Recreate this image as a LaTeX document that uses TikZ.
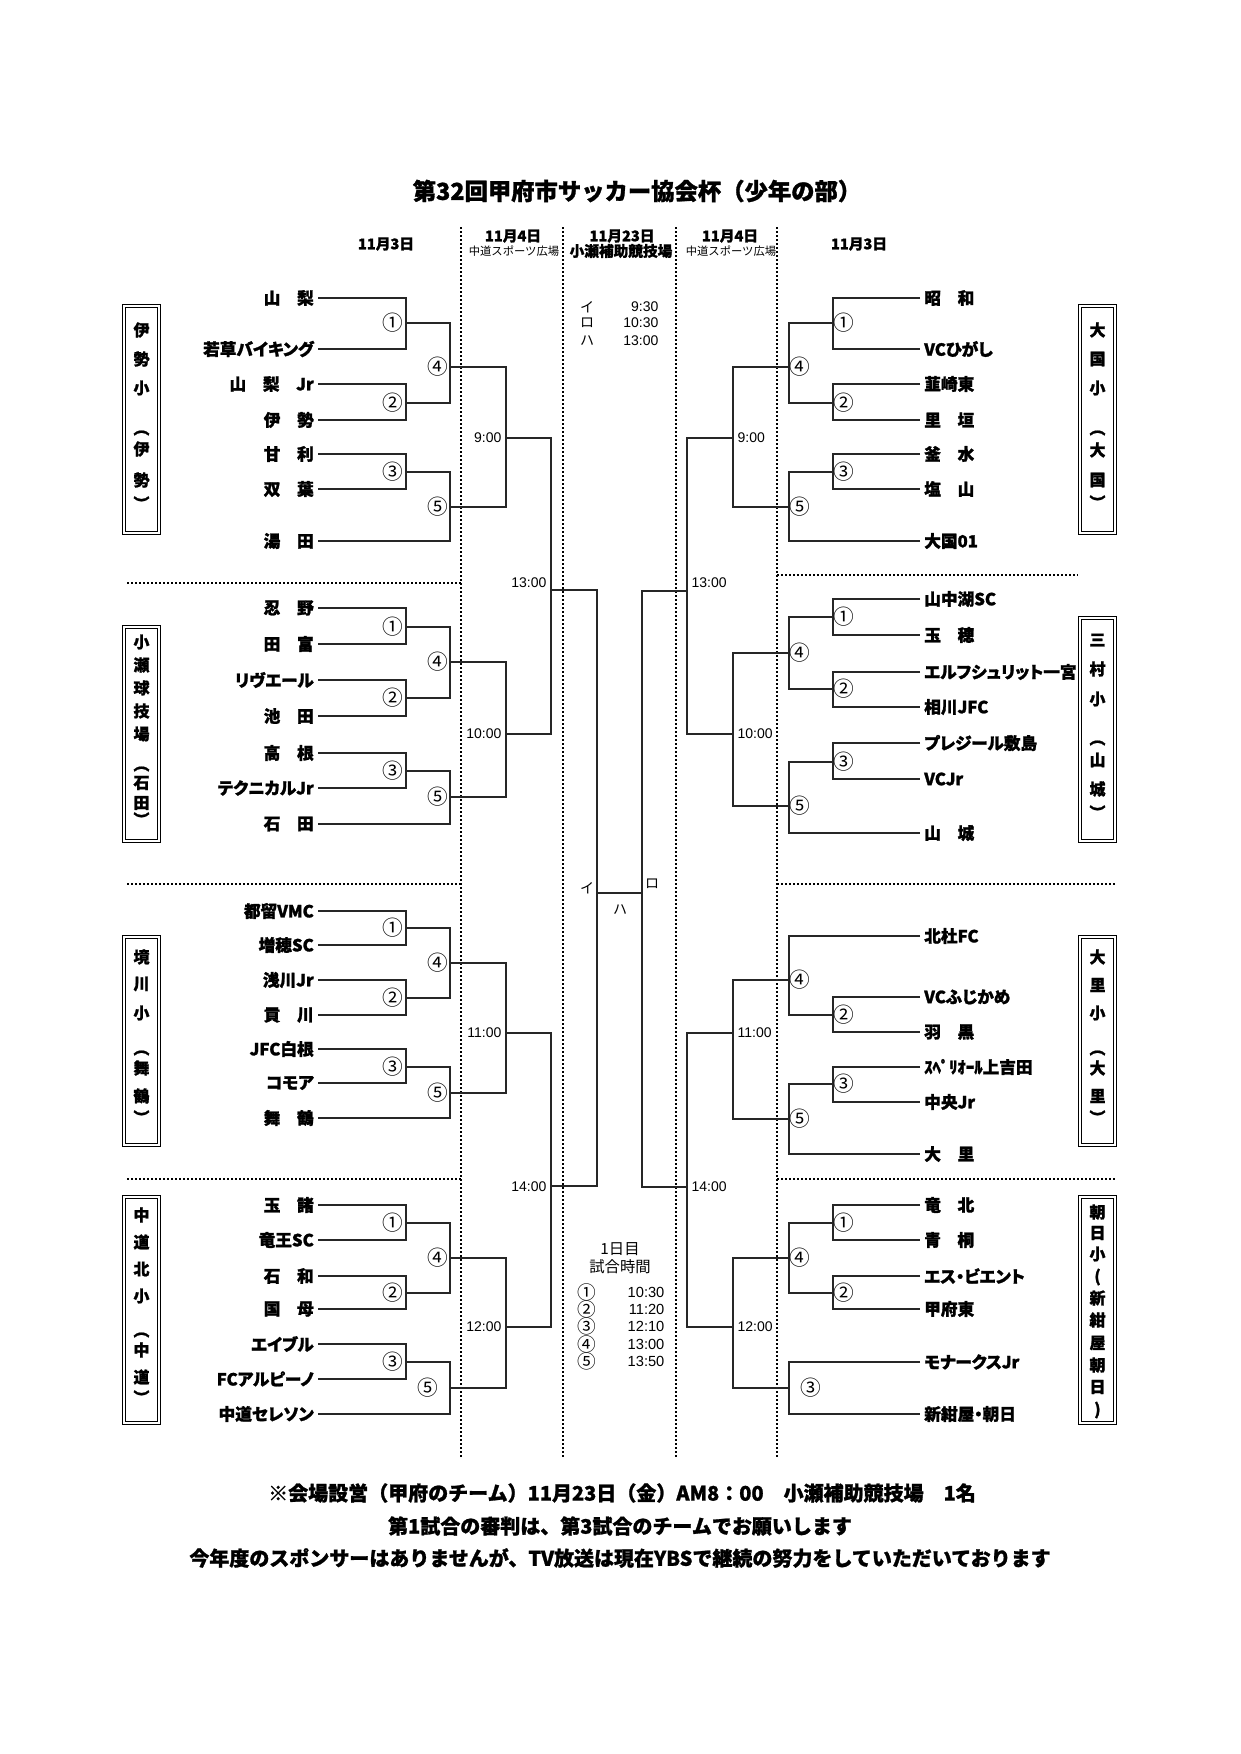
\documentclass[tikz,border=0pt]{standalone}
\usepackage{fontspec}
\setmainfont{Noto Sans CJK JP}[BoldFeatures={FakeBold=1.2}]
\newfontfamily\jpp{Noto Sans CJK JP}[RawFeature=+palt, BoldFeatures={FakeBold=1.4}]
\newfontfamily\arialf{Liberation Sans}
\begin{document}
\begin{tikzpicture}[x=0.75pt,y=-0.75pt]
\tikzset{
 team/.style={font=\jpp\bfseries\fontsize{12.5}{14}\selectfont, inner xsep=3pt, inner ysep=1pt},
 brk/.style={line width=1pt, draw=black!85},
 dots/.style={line width=1.4pt, dash pattern=on 1.5pt off 1.5pt},
 num/.style={font=\fontsize{15.5}{16}\selectfont, inner sep=0pt},
 tm/.style={font=\arialf\fontsize{10.5}{12}\selectfont, inner sep=1pt},
 boxch/.style={font=\bfseries\fontsize{12}{12}\selectfont, inner sep=0pt},
 sbox/.style={draw, line width=0.8pt, double, double distance=2pt},
 hdr/.style={font=\bfseries\fontsize{11}{12}\selectfont, inner sep=0pt},
 hdrs/.style={font=\fontsize{8.5}{10}\selectfont, inner sep=0pt},
 hdrm/.style={font=\bfseries\fontsize{11}{12}\selectfont, inner sep=0pt},
 ctext/.style={font=\fontsize{11.5}{13}\selectfont, inner sep=0pt},
 foot/.style={font=\bfseries\fontsize{15}{18}\selectfont, inner sep=0pt},
}
\fill[white] (0,0) rectangle (1240,1754);
\useasboundingbox (0,0) rectangle (1240,1754);

% title and header
\node[font=\bfseries\fontsize{17.5}{20}\selectfont, inner sep=0pt] (title) at (637,191) {第32回甲府市サッカー協会杯（少年の部）};
\node[hdr] (h3L) at (386,244) {11月3日};
\node[hdr] (h4L) at (513,236) {11月4日};
\node[hdrs] (h4Ls) at (514,251) {中道スポーツ広場};
\node[hdr] (h23) at (622,236) {11月23日};
\node[hdrm] (h23s) at (621,251) {小瀬補助競技場};
\node[hdr] (h4R) at (730,236) {11月4日};
\node[hdrs] (h4Rs) at (731,251) {中道スポーツ広場};
\node[hdr] (h3R) at (859,244) {11月3日};

% dotted vertical lines
\coordinate (v1t) at (461,227); \coordinate (v1b) at (461,1457);
\coordinate (v2t) at (563,227); \coordinate (v2b) at (563,1457);
\coordinate (v3t) at (676,227); \coordinate (v3b) at (676,1457);
\coordinate (v4t) at (777,227); \coordinate (v4b) at (777,1457);
\draw[dots] (v1t) -- (v1b);
\draw[dots] (v2t) -- (v2b);
\draw[dots] (v3t) -- (v3b);
\draw[dots] (v4t) -- (v4b);
% dotted horizontal separators
\coordinate (sl1a) at (127,583); \coordinate (sl1b) at (461,583);
\coordinate (sl2a) at (127,884); \coordinate (sl2b) at (461,884);
\coordinate (sl3a) at (127,1179); \coordinate (sl3b) at (461,1179);
\coordinate (sr1a) at (777,575); \coordinate (sr1b) at (1078,575);
\coordinate (sr2a) at (777,884); \coordinate (sr2b) at (1115,884);
\coordinate (sr3a) at (777,1179); \coordinate (sr3b) at (1115,1179);
\draw[dots] (sl1a) -- (sl1b);
\draw[dots] (sl2a) -- (sl2b);
\draw[dots] (sl3a) -- (sl3b);
\draw[dots] (sr1a) -- (sr1b);
\draw[dots] (sr2a) -- (sr2b);
\draw[dots] (sr3a) -- (sr3b);

% school boxes
\draw[sbox] (124,306) rectangle (159,533);
\draw[sbox] (124,627) rectangle (159,841);
\draw[sbox] (124,937) rectangle (159,1145);
\draw[sbox] (124,1197) rectangle (159,1423);
\draw[sbox] (1080,306) rectangle (1115,533);
\draw[sbox] (1080,618) rectangle (1115,841);
\draw[sbox] (1080,937) rectangle (1115,1145);
\draw[sbox] (1080,1197) rectangle (1115,1423);
\foreach \c/\y in {伊/330,勢/359,小/388,︵/433,伊/449,勢/480,︶/503}
  \node[boxch] (bxa\y) at (141.5,\y) {\c};
\foreach \c/\y in {小/642,瀬/665,球/688,技/711,場/734,︵/769,石/783,田/803,︶/819}
  \node[boxch] (bxb\y) at (141.5,\y) {\c};
\foreach \c/\y in {境/957,川/984,小/1013,︵/1053,舞/1068,鶴/1096,︶/1117}
  \node[boxch] (bxc\y) at (141.5,\y) {\c};
\foreach \c/\y in {中/1215,道/1242,北/1269,小/1296,︵/1335,中/1350,道/1377,︶/1397}
  \node[boxch] (bxd\y) at (141.5,\y) {\c};
\foreach \c/\y in {大/330,国/359,小/388,︵/433,大/450,国/480,︶/502}
  \node[boxch] (bxe\y) at (1097.5,\y) {\c};
\foreach \c/\y in {三/640,村/669,小/699,︵/743,山/760,城/789,︶/812}
  \node[boxch] (bxf\y) at (1097.5,\y) {\c};
\foreach \c/\y in {大/957,里/985,小/1013,︵/1053,大/1068,里/1096,︶/1117}
  \node[boxch] (bxg\y) at (1097.5,\y) {\c};
\foreach \c/\y in {朝/1212,日/1233,小/1254,{(}/1277,新/1298,紺/1320,屋/1343,朝/1365,日/1387,{)}/1410}
  \node[boxch] (bxh\y) at (1097.5,\y) {\c};

% ===== left group 1 =====
\node[team,anchor=east] (a1) at (318,298) {山　梨};
\node[team,anchor=east] (a2) at (318,349) {若草バイキング};
\node[team,anchor=east] (a3) at (318,384) {山　梨　Jr};
\node[team,anchor=east] (a4) at (318,420) {伊　勢};
\node[team,anchor=east] (a5) at (318,454) {甘　利};
\node[team,anchor=east] (a6) at (318,489) {双　葉};
\node[team,anchor=east] (a7) at (318,541) {湯　田};
\coordinate (a-m1) at (406,323); \coordinate (a-m2) at (406,403);
\coordinate (a-m3) at (406,472); \coordinate (a-m4) at (450,367);
\coordinate (a-m5) at (450,507); \coordinate (a-t) at (506,438);
\draw[brk] (a1.east) -| (a-m1) |- (a2.east);
\draw[brk] (a3.east) -| (a-m2) |- (a4.east);
\draw[brk] (a5.east) -| (a-m3) |- (a6.east);
\draw[brk] (a-m1) -| (a-m4) |- (a-m2);
\draw[brk] (a-m3) -| (a-m5) |- (a7.east);
\draw[brk] (a-m4) -| (a-t) |- (a-m5);
\node[num] (a-n1) at (393,323) {①};
\node[num] (a-n2) at (393,403) {②};
\node[num] (a-n3) at (393,472) {③};
\node[num] (a-n4) at (438,367) {④};
\node[num] (a-n5) at (438,507) {⑤};
\node[tm,anchor=east] (a-tm) at (503,438) {9:00};

% ===== left group 2 =====
\node[team,anchor=east] (b1) at (318,608) {忍　野};
\node[team,anchor=east] (b2) at (318,644) {田　富};
\node[team,anchor=east] (b3) at (318,680) {リヴエール};
\node[team,anchor=east] (b4) at (318,716) {池　田};
\node[team,anchor=east] (b5) at (318,753) {高　根};
\node[team,anchor=east] (b6) at (318,788) {テクニカルJr};
\node[team,anchor=east] (b7) at (318,824) {石　田};
\coordinate (b-m1) at (406,627); \coordinate (b-m2) at (406,698);
\coordinate (b-m3) at (406,771); \coordinate (b-m4) at (450,662);
\coordinate (b-m5) at (450,797); \coordinate (b-t) at (506,734);
\draw[brk] (b1.east) -| (b-m1) |- (b2.east);
\draw[brk] (b3.east) -| (b-m2) |- (b4.east);
\draw[brk] (b5.east) -| (b-m3) |- (b6.east);
\draw[brk] (b-m1) -| (b-m4) |- (b-m2);
\draw[brk] (b-m3) -| (b-m5) |- (b7.east);
\draw[brk] (b-m4) -| (b-t) |- (b-m5);
\node[num] (b-n1) at (393,627) {①};
\node[num] (b-n2) at (393,698) {②};
\node[num] (b-n3) at (393,771) {③};
\node[num] (b-n4) at (438,662) {④};
\node[num] (b-n5) at (438,797) {⑤};
\node[tm,anchor=east] (b-tm) at (503,734) {10:00};

% ===== left group 3 =====
\node[team,anchor=east] (c1) at (318,911) {都留VMC};
\node[team,anchor=east] (c2) at (318,945) {増穂SC};
\node[team,anchor=east] (c3) at (318,980) {浅川Jr};
\node[team,anchor=east] (c4) at (318,1015) {貢　川};
\node[team,anchor=east] (c5) at (318,1049) {JFC白根};
\node[team,anchor=east] (c6) at (318,1083) {コモア};
\node[team,anchor=east] (c7) at (318,1118) {舞　鶴};
\coordinate (c-m1) at (406,928); \coordinate (c-m2) at (406,998);
\coordinate (c-m3) at (406,1067); \coordinate (c-m4) at (450,963);
\coordinate (c-m5) at (450,1093); \coordinate (c-t) at (506,1033);
\draw[brk] (c1.east) -| (c-m1) |- (c2.east);
\draw[brk] (c3.east) -| (c-m2) |- (c4.east);
\draw[brk] (c5.east) -| (c-m3) |- (c6.east);
\draw[brk] (c-m1) -| (c-m4) |- (c-m2);
\draw[brk] (c-m3) -| (c-m5) |- (c7.east);
\draw[brk] (c-m4) -| (c-t) |- (c-m5);
\node[num] (c-n1) at (393,928) {①};
\node[num] (c-n2) at (393,998) {②};
\node[num] (c-n3) at (393,1067) {③};
\node[num] (c-n4) at (438,963) {④};
\node[num] (c-n5) at (438,1093) {⑤};
\node[tm,anchor=east] (c-tm) at (503,1033) {11:00};

% ===== left group 4 =====
\node[team,anchor=east] (d1) at (318,1205) {玉　諸};
\node[team,anchor=east] (d2) at (318,1240) {竜王SC};
\node[team,anchor=east] (d3) at (318,1276) {石　和};
\node[team,anchor=east] (d4) at (318,1309) {国　母};
\node[team,anchor=east] (d5) at (318,1344) {エイブル};
\node[team,anchor=east] (d6) at (318,1379) {FCアルピーノ};
\node[team,anchor=east] (d7) at (318,1414) {中道セレソン};
\coordinate (d-m1) at (406,1223); \coordinate (d-m2) at (406,1293);
\coordinate (d-m3) at (406,1362); \coordinate (d-m4) at (450,1258);
\coordinate (d-m5) at (450,1388); \coordinate (d-t) at (506,1327);
\draw[brk] (d1.east) -| (d-m1) |- (d2.east);
\draw[brk] (d3.east) -| (d-m2) |- (d4.east);
\draw[brk] (d5.east) -| (d-m3) |- (d6.east);
\draw[brk] (d-m1) -| (d-m4) |- (d-m2);
\draw[brk] (d-m3) -| (d-m5) |- (d7.east);
\draw[brk] (d-m4) -| (d-t) |- (d-m5);
\node[num] (d-n1) at (393,1223) {①};
\node[num] (d-n2) at (393,1293) {②};
\node[num] (d-n3) at (393,1362) {③};
\node[num] (d-n4) at (438,1258) {④};
\node[num] (d-n5) at (428,1388) {⑤};
\node[tm,anchor=east] (d-tm) at (503,1327) {12:00};

% ===== right group 1 =====
\node[team,anchor=west] (e1) at (920,298) {昭　和};
\node[team,anchor=west] (e2) at (920,349) {VCひがし};
\node[team,anchor=west] (e3) at (920,384) {韮崎東};
\node[team,anchor=west] (e4) at (920,420) {里　垣};
\node[team,anchor=west] (e5) at (920,454) {釜　水};
\node[team,anchor=west] (e6) at (920,489) {塩　山};
\node[team,anchor=west] (e7) at (920,541) {大国01};
\coordinate (e-m1) at (833,323); \coordinate (e-m2) at (833,403);
\coordinate (e-m3) at (833,472); \coordinate (e-m4) at (789,367);
\coordinate (e-m5) at (789,507); \coordinate (e-t) at (733,438);
\draw[brk] (e1.west) -| (e-m1) |- (e2.west);
\draw[brk] (e3.west) -| (e-m2) |- (e4.west);
\draw[brk] (e5.west) -| (e-m3) |- (e6.west);
\draw[brk] (e-m1) -| (e-m4) |- (e-m2);
\draw[brk] (e-m3) -| (e-m5) |- (e7.west);
\draw[brk] (e-m4) -| (e-t) |- (e-m5);
\node[num] (e-n1) at (844,323) {①};
\node[num] (e-n2) at (844,403) {②};
\node[num] (e-n3) at (844,472) {③};
\node[num] (e-n4) at (800,367) {④};
\node[num] (e-n5) at (800,507) {⑤};
\node[tm,anchor=west] (e-tm) at (736,438) {9:00};

% ===== right group 2 =====
\node[team,anchor=west] (f1) at (920,599) {山中湖SC};
\node[team,anchor=west] (f2) at (920,635) {玉　穂};
\node[team,anchor=west] (f3) at (920,672) {エルフシュリット一宮};
\node[team,anchor=west] (f4) at (920,707) {相川JFC};
\node[team,anchor=west] (f5) at (920,743) {プレジール敷島};
\node[team,anchor=west] (f6) at (920,779) {VCJr};
\node[team,anchor=west] (f7) at (920,833) {山　城};
\coordinate (f-m1) at (833,617); \coordinate (f-m2) at (833,689);
\coordinate (f-m3) at (833,762); \coordinate (f-m4) at (789,653);
\coordinate (f-m5) at (789,806); \coordinate (f-t) at (733,734);
\draw[brk] (f1.west) -| (f-m1) |- (f2.west);
\draw[brk] (f3.west) -| (f-m2) |- (f4.west);
\draw[brk] (f5.west) -| (f-m3) |- (f6.west);
\draw[brk] (f-m1) -| (f-m4) |- (f-m2);
\draw[brk] (f-m3) -| (f-m5) |- (f7.west);
\draw[brk] (f-m4) -| (f-t) |- (f-m5);
\node[num] (f-n1) at (844,617) {①};
\node[num] (f-n2) at (844,689) {②};
\node[num] (f-n3) at (844,762) {③};
\node[num] (f-n4) at (800,653) {④};
\node[num] (f-n5) at (800,806) {⑤};
\node[tm,anchor=west] (f-tm) at (736,734) {10:00};

% ===== right group 3 =====
\node[team,anchor=west] (g1) at (920,936) {北杜FC};
\node[team,anchor=west] (g2) at (920,997) {VCふじかめ};
\node[team,anchor=west] (g3) at (920,1032) {羽　黒};
\node[team,anchor=west] (g4) at (920,1067) {ｽﾍﾟﾘｵｰﾙ上吉田};
\node[team,anchor=west] (g5) at (920,1102) {中央Jr};
\node[team,anchor=west] (g6) at (920,1154) {大　里};
\coordinate (g-m2) at (833,1015); \coordinate (g-m3) at (833,1084);
\coordinate (g-m4) at (789,980); \coordinate (g-m5) at (789,1119);
\coordinate (g-t) at (733,1033);
\draw[brk] (g2.west) -| (g-m2) |- (g3.west);
\draw[brk] (g4.west) -| (g-m3) |- (g5.west);
\draw[brk] (g1.west) -| (g-m4) |- (g-m2);
\draw[brk] (g-m3) -| (g-m5) |- (g6.west);
\draw[brk] (g-m4) -| (g-t) |- (g-m5);
\node[num] (g-n2) at (844,1015) {②};
\node[num] (g-n3) at (844,1084) {③};
\node[num] (g-n4) at (800,980) {④};
\node[num] (g-n5) at (800,1119) {⑤};
\node[tm,anchor=west] (g-tm) at (736,1033) {11:00};

% ===== right group 4 =====
\node[team,anchor=west] (h1) at (920,1205) {竜　北};
\node[team,anchor=west] (h2) at (920,1240) {青　桐};
\node[team,anchor=west] (h3) at (920,1276) {エス・ビエント};
\node[team,anchor=west] (h4) at (920,1309) {甲府東};
\node[team,anchor=west] (h5) at (920,1362) {モナークスJr};
\node[team,anchor=west] (h6) at (920,1414) {新紺屋・朝日};
\coordinate (h-m1) at (833,1223); \coordinate (h-m2) at (833,1293);
\coordinate (h-m4) at (789,1258); \coordinate (h-m3) at (789,1388);
\coordinate (h-t) at (733,1327);
\draw[brk] (h1.west) -| (h-m1) |- (h2.west);
\draw[brk] (h3.west) -| (h-m2) |- (h4.west);
\draw[brk] (h-m1) -| (h-m4) |- (h-m2);
\draw[brk] (h5.west) -| (h-m3) |- (h6.west);
\draw[brk] (h-m4) -| (h-t) |- (h-m3);
\node[num] (h-n1) at (844,1223) {①};
\node[num] (h-n2) at (844,1293) {②};
\node[num] (h-n4) at (800,1258) {④};
\node[num] (h-n3) at (811,1388) {③};
\node[tm,anchor=west] (h-tm) at (736,1327) {12:00};

% ===== semifinals and final =====
\coordinate (L13) at (551,590); \coordinate (L14) at (551,1186);
\coordinate (R13) at (687,591); \coordinate (R14) at (687,1187);
\coordinate (LI) at (597,893); \coordinate (RI) at (642,893);
\draw[brk] (a-t) -| (L13) |- (b-t);
\draw[brk] (c-t) -| (L14) |- (d-t);
\draw[brk] (e-t) -| (R13) |- (f-t);
\draw[brk] (g-t) -| (R14) |- (h-t);
\draw[brk] (L13) -| (LI) |- (L14);
\draw[brk] (R13) -| (RI) |- (R14);
\draw[brk] (LI) -- (RI);
\node[tm,anchor=east] (L13t) at (548,583) {13:00};
\node[tm,anchor=east] (L14t) at (548,1187) {14:00};
\node[tm,anchor=west] (R13t) at (690,583) {13:00};
\node[tm,anchor=west] (R14t) at (690,1187) {14:00};
\node[font=\fontsize{10.5}{12}\selectfont, inner sep=0pt] (kI) at (587,888) {イ};
\node[font=\fontsize{10.5}{12}\selectfont, inner sep=0pt] (kR) at (652,884) {ロ};
\node[font=\fontsize{10.5}{12}\selectfont, inner sep=0pt] (kH) at (620,910) {ハ};

% ===== schedule notes =====
\node[font=\fontsize{10.5}{12}\selectfont, inner sep=0pt] (s1) at (587,307) {イ};
\node[font=\fontsize{10.5}{12}\selectfont, inner sep=0pt] (s2) at (587,323) {ロ};
\node[font=\fontsize{10.5}{12}\selectfont, inner sep=0pt] (s3) at (587,341) {ハ};
\node[tm,anchor=east] (s1t) at (660,307) {9:30};
\node[tm,anchor=east] (s2t) at (660,323) {10:30};
\node[tm,anchor=east] (s3t) at (660,341) {13:00};

\node[ctext] (d1h) at (620,1249) {1日目};
\node[ctext] (d1s) at (620,1267) {試合時間};
\foreach \n/\t/\y in {①/10:30/1292,②/11:20/1309,③/12:10/1326,④/13:00/1344,⑤/13:50/1361}{
  \node[num, font=\fontsize{14}{14}\selectfont] (ct\y) at (587,\y) {\n};
  \node[tm,anchor=east, font=\arialf\fontsize{11}{12}\selectfont] (ctt\y) at (666,\y) {\t};
}

% ===== footer =====
\node[foot] (f1) at (622,1493) {※会場設営（甲府のチーム）11月23日（金）AM8：00　小瀬補助競技場　1名};
\node[foot] (f2) at (620,1526) {第1試合の審判は、第3試合のチームでお願いします};
\node[foot] (f3) at (620,1558) {今年度のスポンサーはありませんが、TV放送は現在YBSで継続の努力をしていただいております};
\end{tikzpicture}
\end{document}
